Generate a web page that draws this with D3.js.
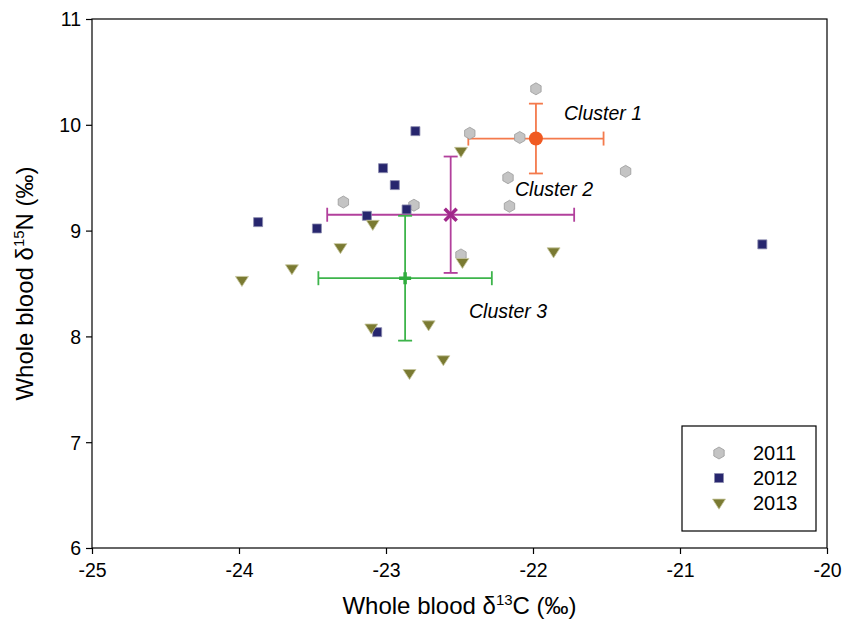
<!DOCTYPE html>
<html>
<head>
<meta charset="utf-8">
<script src="https://cdn.jsdelivr.net/npm/d3@7/dist/d3.min.js"></script>
<style>
  body { margin: 0; background: #fff; }
  svg { font-family: 'Liberation Sans', Arial, sans-serif; }
</style>
</head>
<body>
<div id="chart"></div>
<script>
// d13C, d15N per sampling year
const years = ['2011', '2012', '2013']
const data2011 = [
  [-21.98, 10.34], [-22.43, 9.92], [-22.09, 9.88], [-21.37, 9.56], [-22.17, 9.50],
  [-22.16, 9.23], [-23.29, 9.27], [-22.81, 9.24], [-22.49, 8.77]
]
const data2012 = [
  [-22.80, 9.94], [-23.02, 9.59], [-22.94, 9.43], [-22.86, 9.20], [-23.13, 9.14],
  [-23.47, 9.02], [-23.87, 9.08], [-23.06, 8.04], [-20.44, 8.87]
]
const data2013 = [
  [-22.49, 9.75], [-23.09, 9.06], [-23.31, 8.84], [-21.86, 8.80], [-22.48, 8.70],
  [-23.64, 8.64], [-23.98, 8.53], [-23.10, 8.08], [-22.71, 8.11], [-22.61, 7.78],
  [-22.84, 7.65]
]

// cluster means with +/- SD
const clusterNames = ['Cluster 1', 'Cluster 2', 'Cluster 3']
const clusterX = [-21.98, -22.56, -22.87]
const clusterY = [9.87, 9.15, 8.55]
const clusterXErr = [0.46, 0.84, 0.59]
const clusterYErr = [0.33, 0.55, 0.59]

const xTicks = [-25, -24, -23, -22, -21, -20]
const yTicks = [6, 7, 8, 9, 10, 11]

const W = 844
const H = 628
const margin = { top: 19, right: 17, bottom: 80, left: 92 }
const innerW = W - margin.left - margin.right
const innerH = H - margin.top - margin.bottom

const svg = d3.select('#chart').append('svg')
  .attr('width', W)
  .attr('height', H)

const g = svg.append('g')
  .attr('transform', `translate(${margin.left}, ${margin.top})`)

const x = d3.scaleLinear().domain([-25, -20]).range([0, innerW])
const y = d3.scaleLinear().domain([6, 11]).range([innerH, 0])

// frame
g.append('rect')
  .attr('width', innerW)
  .attr('height', innerH)
  .attr('fill', 'none')
  .attr('stroke', '#000')
  .attr('stroke-width', 1.2)

const xAxis = g.append('g')
  .attr('transform', `translate(0, ${innerH})`)
  .call(d3.axisBottom(x).tickValues(xTicks).tickSize(6).tickFormat(d => String(d)))
const yAxis = g.append('g')
  .call(d3.axisLeft(y).tickValues(yTicks).tickSize(6).tickFormat(d => String(d)))

;[xAxis, yAxis].forEach(ax => {
  ax.select('.domain').remove()
  ax.selectAll('line').attr('stroke', '#000').attr('stroke-width', 1.2)
  ax.selectAll('text').attr('fill', '#000').style('font-size', '19.5px')
    .style('font-family', "'Liberation Sans', Arial, sans-serif")
})
xAxis.selectAll('text').attr('dy', '1.05em')
yAxis.selectAll('text').attr('x', -11).attr('dy', '0.35em')

// axis titles
const xTitle = svg.append('text')
  .attr('x', margin.left + innerW / 2)
  .attr('y', 614)
  .attr('text-anchor', 'middle')
  .style('font-size', '24px')
xTitle.append('tspan').text('Whole blood \u03B4')
xTitle.append('tspan').text('13').attr('dy', -9).style('font-size', '15px')
xTitle.append('tspan').text('C (\u2030)').attr('dy', 9)

const yTitle = svg.append('text')
  .attr('transform', `translate(33, ${margin.top + innerH / 2}) rotate(-90)`)
  .attr('text-anchor', 'middle')
  .style('font-size', '24px')
yTitle.append('tspan').text('Whole blood \u03B4')
yTitle.append('tspan').text('15').attr('dy', -9).style('font-size', '15px')
yTitle.append('tspan').text('N (\u2030)').attr('dy', 9)

// error bars
const barColors = ['#f47a4c', '#b2409c', '#3db44b']
const capHalf = 7
clusterNames.forEach((name, i) => {
  const cx = x(clusterX[i])
  const cy = y(clusterY[i])
  const x0 = x(clusterX[i] - clusterXErr[i])
  const x1 = x(clusterX[i] + clusterXErr[i])
  const y0 = y(clusterY[i] - clusterYErr[i])
  const y1 = y(clusterY[i] + clusterYErr[i])
  const eb = g.append('g')
    .attr('stroke', barColors[i])
    .attr('stroke-width', 1.8)
  eb.append('line').attr('x1', x0).attr('x2', x1).attr('y1', cy).attr('y2', cy)
  eb.append('line').attr('x1', cx).attr('x2', cx).attr('y1', y0).attr('y2', y1)
  eb.append('line').attr('x1', x0).attr('x2', x0).attr('y1', cy - capHalf).attr('y2', cy + capHalf)
  eb.append('line').attr('x1', x1).attr('x2', x1).attr('y1', cy - capHalf).attr('y2', cy + capHalf)
  eb.append('line').attr('x1', cx - capHalf).attr('x2', cx + capHalf).attr('y1', y0).attr('y2', y0)
  eb.append('line').attr('x1', cx - capHalf).attr('x2', cx + capHalf).attr('y1', y1).attr('y2', y1)
})

// point symbols
function hexPath(r) {
  const pts = d3.range(6).map(k => {
    const a = Math.PI / 3 * k - Math.PI / 2
    return [r * Math.cos(a), r * Math.sin(a)]
  })
  return 'M' + pts.map(p => p.join(',')).join('L') + 'Z'
}
function triPath(r) {
  return `M${-r},${-r * 0.6}L${r},${-r * 0.6}L0,${r * 0.95}Z`
}
const yearStyles = [
  { data: data2011, path: hexPath(6), fill: '#c4c4c4', stroke: '#9a9a9a' },
  { data: data2012, path: 'M-4.5,-4.5H4.5V4.5H-4.5Z', fill: '#27266e', stroke: '#8c8cae' },
  { data: data2013, path: triPath(6.5), fill: '#7a7a32', stroke: '#c8c8a0' }
]

yearStyles.forEach(s => {
  g.append('g').selectAll('path')
    .data(s.data)
    .enter()
    .append('path')
    .attr('d', s.path)
    .attr('transform', d => `translate(${x(d[0])}, ${y(d[1])})`)
    .attr('fill', s.fill)
    .attr('stroke', s.stroke)
    .attr('stroke-width', 0.8)
})

// cluster centres
g.append('circle')
  .attr('cx', x(clusterX[0]))
  .attr('cy', y(clusterY[0]))
  .attr('r', 7)
  .attr('fill', '#f05a22')
g.append('path')
  .attr('d', 'M-6,-6L6,6M-6,6L6,-6')
  .attr('transform', `translate(${x(clusterX[1])}, ${y(clusterY[1])})`)
  .attr('stroke', '#a1288b')
  .attr('stroke-width', 3.5)
g.append('path')
  .attr('d', 'M-6,0H6M0,-6V6')
  .attr('transform', `translate(${x(clusterX[2])}, ${y(clusterY[2])})`)
  .attr('stroke', '#30ad3e')
  .attr('stroke-width', 3.5)

// cluster labels
const labelPos = [[564, 120], [515, 196], [469, 318]]
clusterNames.forEach((name, i) => {
  svg.append('text')
    .attr('x', labelPos[i][0])
    .attr('y', labelPos[i][1])
    .style('font-size', '19.5px')
    .style('font-style', 'italic')
    .text(name)
})

// legend
const legend = svg.append('g').attr('transform', 'translate(682, 426)')
legend.append('rect')
  .attr('width', 134)
  .attr('height', 105)
  .attr('fill', '#fff')
  .attr('stroke', '#000')
  .attr('stroke-width', 1.2)
yearStyles.forEach((s, i) => {
  const ly = 27 + i * 25
  legend.append('path')
    .attr('d', s.path)
    .attr('transform', `translate(37, ${ly})`)
    .attr('fill', s.fill)
    .attr('stroke', s.stroke)
    .attr('stroke-width', 0.8)
  legend.append('text')
    .attr('x', 71)
    .attr('y', ly)
    .attr('dy', '0.36em')
    .style('font-size', '20px')
    .text(years[i])
})
</script>
</body>
</html>
